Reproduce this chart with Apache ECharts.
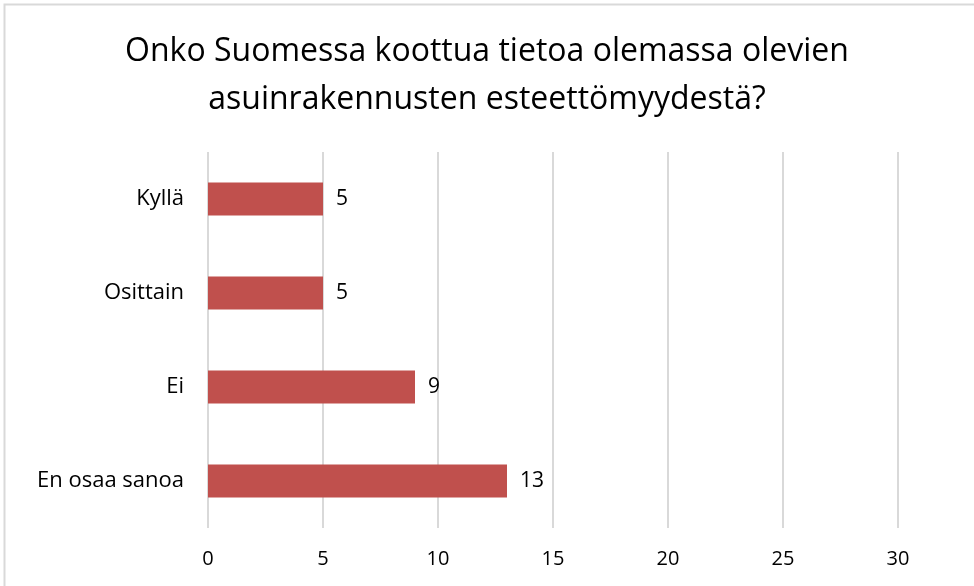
<!DOCTYPE html>
<html>
<head>
<meta charset="utf-8">
<script src="https://cdn.jsdelivr.net/npm/echarts@6/dist/echarts.min.js"></script>
<style>
  html, body { margin: 0; padding: 0; background: #fff; }
  #main { width: 974px; height: 586px; }
</style>
</head>
<body>
<div id="main"></div>
<script>
var categories = ['En osaa sanoa', 'Ei', 'Osittain', 'Kyllä'];
var values = [13, 9, 5, 5];
var titleText = 'Onko Suomessa koottua tietoa olemassa olevien\nasuinrakennusten esteettömyydestä?';

var chartDom = document.getElementById('main');
var myChart = echarts.init(chartDom);
var option;

option = {
  backgroundColor: '#fff',
  textStyle: { fontFamily: 'Open Sans' },
  graphic: [{
    type: 'rect',
    shape: { x: 4.5, y: 4.5, width: 1000, height: 1000 },
    style: { fill: 'none', stroke: '#d9d9d9', lineWidth: 2 },
    silent: true
  }],
  title: {
    text: titleText,
    left: 'center',
    top: 23,
    textStyle: {
      fontFamily: 'Open Sans',
      fontSize: 32,
      fontWeight: 'normal',
      color: '#000',
      lineHeight: 48
    }
  },
  grid: { left: 208, right: 76, top: 152, bottom: 58, containLabel: false },
  xAxis: {
    type: 'value',
    min: 0,
    max: 30,
    interval: 5,
    axisLine: { show: false },
    axisTick: { show: false },
    axisLabel: { color: '#000', fontSize: 20, margin: 21 },
    splitLine: { lineStyle: { color: '#d9d9d9', width: 2 } }
  },
  yAxis: {
    type: 'category',
    data: categories,
    axisLine: { show: false },
    axisTick: { show: false },
    axisLabel: { color: '#000', fontSize: 22, margin: 24 }
  },
  series: [{
    type: 'bar',
    data: values,
    barWidth: 33,
    itemStyle: { color: '#C0504D' },
    label: { show: true, position: 'right', distance: 13, color: '#000', fontSize: 21 }
  }]
};

option && myChart.setOption(option);
window.addEventListener('resize', myChart.resize);
</script>
</body>
</html>
